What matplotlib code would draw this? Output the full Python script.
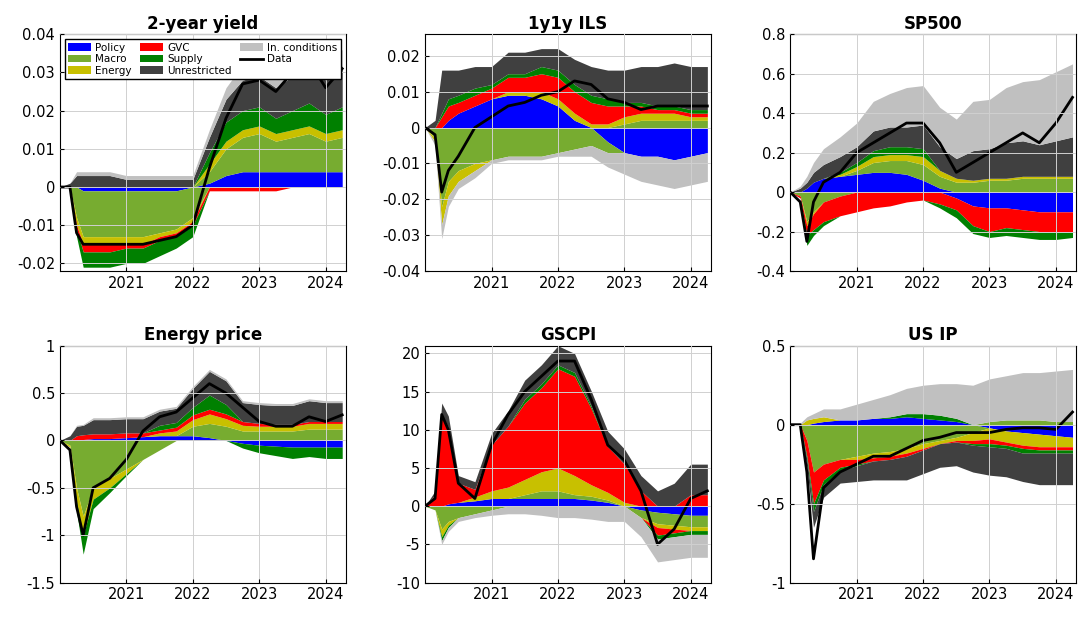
import numpy as np
import matplotlib
matplotlib.use("Agg")
import matplotlib.pyplot as plt

dates = [2020.0, 2020.15, 2020.25, 2020.35, 2020.5, 2020.75, 2021.0, 2021.25, 2021.5, 2021.75,
         2022.0, 2022.25, 2022.5, 2022.75, 2023.0, 2023.25, 2023.5, 2023.75, 2024.0, 2024.25]
components = ["Policy", "Macro", "Energy", "GVC", "Supply", "Unrestricted", "In. conditions"]
colors = ["#0000ff", "#77ac30", "#c8c000", "#ff0000", "#008000", "#404040", "#c0c0c0"]

# 2-year yield
y2_policy = [0,0,0,-0.001,-0.001,-0.001,-0.001,-0.001,-0.001,-0.001,0,0.001,0.003,0.004,0.004,0.004,0.004,0.004,0.004,0.004]
y2_macro = [0,0,-0.008,-0.012,-0.012,-0.012,-0.012,-0.012,-0.011,-0.01,-0.008,0.003,0.007,0.009,0.01,0.008,0.009,0.01,0.008,0.009]
y2_energy = [0,0,-0.002,-0.002,-0.002,-0.002,-0.002,-0.002,-0.001,-0.001,-0.001,0.002,0.002,0.002,0.002,0.002,0.002,0.002,0.002,0.002]
y2_gvc = [0,0,-0.001,-0.002,-0.002,-0.002,-0.001,-0.001,-0.001,-0.001,-0.001,-0.001,-0.001,-0.001,-0.001,-0.001,0,0,0,0]
y2_supply = [0,0,-0.002,-0.004,-0.004,-0.004,-0.004,-0.004,-0.004,-0.003,-0.003,0.003,0.005,0.005,0.005,0.004,0.005,0.006,0.005,0.006]
y2_unres = [0,0.001,0.003,0.003,0.003,0.003,0.002,0.002,0.002,0.002,0.002,0.004,0.006,0.008,0.008,0.008,0.009,0.01,0.009,0.01]
y2_incond = [0,0,0.001,0.001,0.001,0.001,0.001,0.001,0.001,0.001,0.001,0.002,0.003,0.004,0.004,0.004,0.004,0.005,0.005,0.005]
y2_data = [0,0,-0.012,-0.015,-0.015,-0.015,-0.015,-0.015,-0.014,-0.013,-0.01,0.005,0.018,0.027,0.028,0.025,0.03,0.033,0.026,0.031]

# 1y1y ILS
ils_policy = [0,0,0,0.002,0.004,0.006,0.008,0.009,0.009,0.008,0.006,0.002,0,-0.004,-0.007,-0.008,-0.008,-0.009,-0.008,-0.007]
ils_macro = [0,-0.003,-0.022,-0.015,-0.012,-0.01,-0.009,-0.008,-0.008,-0.008,-0.007,-0.006,-0.005,-0.003,0.001,0.002,0.002,0.002,0.002,0.002]
ils_energy = [0,-0.001,-0.005,-0.004,-0.003,-0.002,0,0.001,0.001,0.002,0.002,0.002,0.001,0.001,0.002,0.002,0.002,0.002,0.001,0.001]
ils_gvc = [0,0,0.003,0.004,0.003,0.003,0.003,0.004,0.004,0.005,0.006,0.006,0.006,0.005,0.003,0.002,0.001,0.001,0.001,0.001]
ils_supply = [0,0,0.001,0.002,0.002,0.002,0.001,0.001,0.001,0.002,0.002,0.002,0.002,0.002,0.001,0.001,0.001,0.001,0.001,0.001]
ils_unres = [0,0.002,0.012,0.008,0.007,0.006,0.005,0.006,0.006,0.005,0.006,0.007,0.008,0.008,0.009,0.01,0.011,0.012,0.012,0.012]
ils_incond = [0,-0.001,-0.004,-0.003,-0.002,-0.002,-0.001,-0.001,-0.001,-0.001,-0.001,-0.002,-0.003,-0.004,-0.006,-0.007,-0.008,-0.008,-0.008,-0.008]
ils_data = [0,-0.002,-0.018,-0.012,-0.008,0,0.003,0.006,0.007,0.009,0.01,0.013,0.012,0.008,0.007,0.005,0.006,0.006,0.006,0.006]

# SP500
sp_policy = [0,0,0.02,0.05,0.07,0.08,0.09,0.1,0.1,0.09,0.06,0.02,-0.03,-0.07,-0.08,-0.08,-0.09,-0.1,-0.1,-0.1]
sp_macro = [0,-0.02,-0.15,-0.1,-0.05,-0.02,0.02,0.05,0.06,0.07,0.08,0.06,0.05,0.05,0.06,0.06,0.07,0.07,0.07,0.07]
sp_energy = [0,0,-0.02,-0.01,0,0.01,0.02,0.03,0.03,0.03,0.04,0.03,0.02,0.01,0.01,0.01,0.01,0.01,0.01,0.01]
sp_gvc = [0,-0.01,-0.05,-0.08,-0.1,-0.1,-0.1,-0.08,-0.07,-0.05,-0.04,-0.06,-0.06,-0.1,-0.12,-0.1,-0.1,-0.1,-0.1,-0.1]
sp_supply = [0,0,-0.05,-0.03,-0.02,0.01,0.02,0.03,0.04,0.04,0.04,-0.02,-0.04,-0.04,-0.03,-0.04,-0.04,-0.04,-0.04,-0.03]
sp_unres = [0,0.02,0.03,0.05,0.07,0.08,0.08,0.1,0.1,0.1,0.12,0.12,0.1,0.15,0.15,0.18,0.18,0.16,0.18,0.2]
sp_incond = [0,0.01,0.03,0.05,0.08,0.1,0.12,0.15,0.17,0.2,0.2,0.2,0.2,0.25,0.25,0.28,0.3,0.33,0.35,0.37]
sp_data = [0,-0.05,-0.25,-0.05,0.05,0.1,0.2,0.25,0.3,0.35,0.35,0.25,0.1,0.15,0.2,0.25,0.3,0.25,0.35,0.48]

# Energy price
en_policy = [0,0,0,0.01,0.02,0.02,0.03,0.04,0.05,0.05,0.05,0.03,0,-0.03,-0.05,-0.06,-0.07,-0.07,-0.07,-0.07]
en_macro = [0,-0.05,-0.5,-0.8,-0.5,-0.4,-0.3,-0.2,-0.1,0,0.1,0.15,0.15,0.1,0.1,0.1,0.1,0.12,0.12,0.12]
en_energy = [0,-0.02,-0.15,-0.2,-0.12,-0.1,-0.05,0,0.03,0.05,0.07,0.1,0.08,0.06,0.05,0.05,0.05,0.06,0.06,0.06]
en_gvc = [0,0,0.05,0.05,0.05,0.05,0.05,0.04,0.03,0.04,0.05,0.05,0.05,0.04,0.03,0.02,0.02,0.02,0.02,0.02]
en_supply = [0,0,-0.1,-0.2,-0.1,-0.05,-0.02,0,0.05,0.05,0.08,0.15,0.1,-0.05,-0.08,-0.1,-0.12,-0.1,-0.12,-0.12]
en_unres = [0,0.05,0.1,0.1,0.15,0.15,0.15,0.15,0.15,0.15,0.2,0.25,0.25,0.2,0.2,0.2,0.2,0.22,0.2,0.2]
en_incond = [0,0,0.01,0.01,0.02,0.02,0.02,0.02,0.02,0.02,0.02,0.02,0.02,0.02,0.02,0.02,0.02,0.02,0.02,0.02]
en_data = [0,-0.1,-0.7,-1.0,-0.5,-0.4,-0.2,0.1,0.25,0.3,0.45,0.6,0.5,0.35,0.2,0.15,0.15,0.25,0.2,0.27]

# GSCPI
gs_policy = [0,0,0,0.3,0.5,0.7,1,1,1,1,1,1,0.8,0.5,0,-0.5,-0.8,-1,-1.2,-1.2]
gs_macro = [0,-0.5,-3,-2,-1.5,-1,-0.5,0,0.5,1,1,0.5,0.5,0.3,0,-1,-1.5,-1.5,-1.5,-1.5]
gs_energy = [0,0,-1,-0.5,0,0.5,1,1.5,2,2.5,3,2.5,1.5,1,0.5,0,-0.5,-0.5,-0.5,-0.5]
gs_gvc = [0,1.5,12,10,2.5,1,6,8,10,11,13,13,10,6,5,2,-1,-0.5,1.5,1.5]
gs_supply = [0,0,-0.5,-0.3,0,0,0,0,0.5,0.5,0.5,0.5,0.3,0,0,0,-0.5,-0.5,-0.5,-0.5]
gs_unres = [0,0.5,1.5,1.5,1,1,1.5,2,2.5,2.5,2.5,2.5,2,2,2,2,2,3,4,4]
gs_incond = [0,0,-0.5,-0.5,-0.5,-0.5,-0.7,-1,-1,-1.2,-1.5,-1.5,-1.7,-2,-2,-2.5,-3,-3,-3,-3]
gs_data = [0,1,12,10,3,1,8,12,15,17,19,19,14,8,6,2,-5,-3,1,2]

# US IP
ip_policy = [0,0,0,0.01,0.02,0.03,0.03,0.04,0.04,0.05,0.04,0.03,0.02,0,-0.02,-0.04,-0.05,-0.06,-0.07,-0.08]
ip_macro = [0,0,-0.1,-0.3,-0.25,-0.22,-0.2,-0.18,-0.17,-0.15,-0.12,-0.1,-0.08,-0.05,0.02,0.03,0.03,0.03,0.02,0.02]
ip_energy = [0,0,0.03,0.03,0.03,0,-0.02,-0.03,-0.03,-0.03,-0.03,-0.02,-0.02,-0.05,-0.07,-0.07,-0.08,-0.08,-0.07,-0.06]
ip_gvc = [0,0,-0.1,-0.2,-0.1,-0.05,-0.03,-0.02,-0.02,-0.02,-0.01,0,-0.01,-0.02,-0.03,-0.02,-0.02,-0.02,-0.02,-0.02]
ip_supply = [0,0,-0.02,-0.05,-0.03,-0.02,-0.01,0,0.01,0.02,0.03,0.03,0.02,-0.01,-0.02,-0.02,-0.03,-0.02,-0.02,-0.02]
ip_unres = [0,0,-0.05,-0.1,-0.08,-0.08,-0.1,-0.12,-0.13,-0.15,-0.15,-0.15,-0.15,-0.17,-0.18,-0.18,-0.18,-0.2,-0.2,-0.2]
ip_incond = [0,0.01,0.02,0.03,0.05,0.07,0.1,0.12,0.14,0.16,0.18,0.2,0.22,0.25,0.27,0.28,0.3,0.3,0.32,0.33]
ip_data = [0,0,-0.3,-0.85,-0.4,-0.3,-0.25,-0.2,-0.2,-0.15,-0.1,-0.08,-0.05,-0.05,-0.05,-0.03,-0.02,-0.02,-0.03,0.08]

panels = [
    ("2-year yield", [y2_policy, y2_macro, y2_energy, y2_gvc, y2_supply, y2_unres, y2_incond], y2_data, (-0.022, 0.04), np.arange(-0.02, 0.041, 0.01)),
    ("1y1y ILS", [ils_policy, ils_macro, ils_energy, ils_gvc, ils_supply, ils_unres, ils_incond], ils_data, (-0.04, 0.026), np.arange(-0.04, 0.021, 0.01)),
    ("SP500", [sp_policy, sp_macro, sp_energy, sp_gvc, sp_supply, sp_unres, sp_incond], sp_data, (-0.4, 0.8), np.arange(-0.4, 0.81, 0.2)),
    ("Energy price", [en_policy, en_macro, en_energy, en_gvc, en_supply, en_unres, en_incond], en_data, (-1.5, 1.0), np.arange(-1.5, 1.01, 0.5)),
    ("GSCPI", [gs_policy, gs_macro, gs_energy, gs_gvc, gs_supply, gs_unres, gs_incond], gs_data, (-10, 21), np.arange(-10, 21, 5)),
    ("US IP", [ip_policy, ip_macro, ip_energy, ip_gvc, ip_supply, ip_unres, ip_incond], ip_data, (-1.0, 0.5), np.arange(-1.0, 0.51, 0.5)),
]

def fmt(v):
    s = f"{v:.3f}".rstrip("0").rstrip(".")
    if s in ("-0", ""):
        s = "0"
    return s

fig = plt.figure(figsize=(10.9, 6.23), dpi=100)
lefts = [0.055, 0.39, 0.725]
bottoms = [0.565, 0.065]
w, h = 0.262, 0.38
x = np.array(dates)
for i, (title, comps, data, ylim, yt) in enumerate(panels):
    ax = fig.add_axes([lefts[i % 3], bottoms[i // 3], w, h])
    pos_base = np.zeros(len(x))
    neg_base = np.zeros(len(x))
    handles = []
    for name, c, vals in zip(components, colors, comps):
        v = np.array(vals, dtype=float)
        p = np.clip(v, 0, None)
        n = np.clip(v, None, 0)
        hdl = ax.fill_between(x, pos_base, pos_base + p, color=c, lw=0, label=name)
        ax.fill_between(x, neg_base, neg_base + n, color=c, lw=0)
        pos_base = pos_base + p
        neg_base = neg_base + n
        handles.append(hdl)
    ln, = ax.plot(x, data, color="black", lw=2, label="Data")
    ax.set_xlim(2020.0, 2024.3)
    ax.set_ylim(*ylim)
    ax.set_xticks([2021, 2022, 2023, 2024])
    ax.set_xticklabels(["2021", "2022", "2023", "2024"])
    ax.set_yticks(yt)
    ax.set_yticklabels([fmt(v) for v in yt])
    ax.grid(True, color="#d0d0d0", lw=0.7)
    ax.set_axisbelow(False)
    ax.tick_params(labelsize=10.5, direction="in", length=3)
    ax.set_title(title, fontsize=12, fontweight="bold", pad=4)
    if i == 0:
        order = [0, 1, 2, 3, 4, 5, 6]
        hs = [handles[k] for k in order] + [ln]
        labs = components + ["Data"]
        ax.legend(hs, labs, ncol=3, loc="upper left", fontsize=7.5, columnspacing=0.8,
                  handlelength=2.2, handletextpad=0.4, labelspacing=0.15, borderpad=0.3,
                  framealpha=1, edgecolor="black", fancybox=False)

fig.savefig("out.png", dpi=100)
